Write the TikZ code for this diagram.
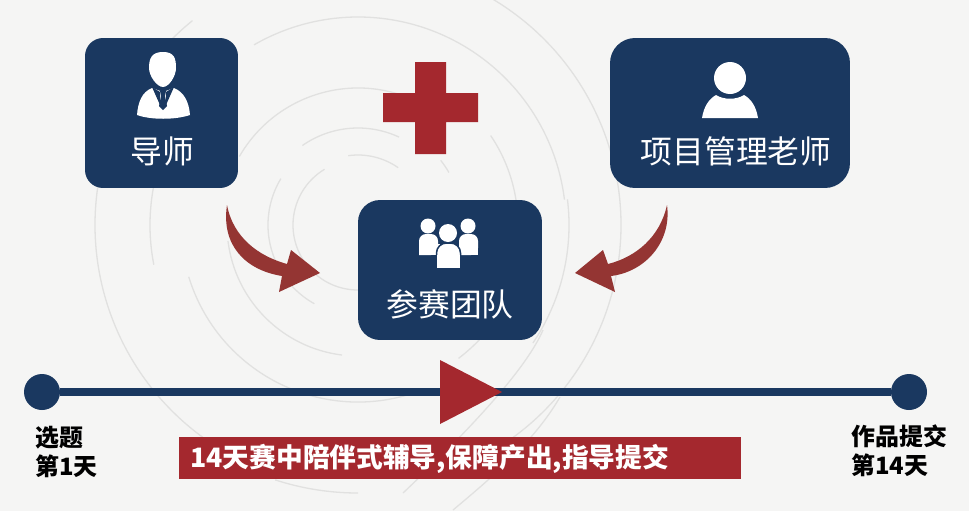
\documentclass[tikz,border=0pt]{standalone}
\usepackage{fontspec}
\usetikzlibrary{calc}
\setmainfont{Noto Sans CJK SC}
\definecolor{navy}{HTML}{1A3860}
\definecolor{crimson}{HTML}{A4282E}
\definecolor{arrowred}{HTML}{943533}
\definecolor{paper}{HTML}{F5F5F4}
\definecolor{ringgray}{HTML}{E1E1E0}
\tikzset{
  card/.style={fill=navy,inner sep=0pt},
  cardtext/.style={text=white,inner sep=0pt,font=\fontsize{18.1}{22}\selectfont},
  daytext/.style={text=black,inner sep=0pt,anchor=north west,align=left,font=\fontsize{13.6}{16.6}\selectfont\bfseries},
  dot/.style={circle,fill=navy,inner sep=0pt,minimum size=0.72cm},
  ring/.style={ringgray,line width=0.026cm}
}
\begin{document}
\begin{tikzpicture}[x=0.02cm,y=-0.02cm]
    % Set the page and the paper colour
    \useasboundingbox (0,0) rectangle (969,511);
    \fill[paper] (0,0) rectangle (969,511);

    % Draw the faint rings behind everything
    \coordinate (ringcentre) at (358,225);
    \foreach \r/\from/\to in {263/126/231,263/-59/55,268/108/90,208/169/222,208/240/353,
                              211/-7/34,177/163/74,137/210/300,131/173/97,97/235/295,
                              90/119/211,70/262/305,65/90/239,160/-34/20,105/-38/-30,167/43/53}
      \draw[ring] ($(ringcentre)+(\from:\r)$) arc[start angle=\from,end angle=\to,radius=\r];
    \draw[ring] (543,330) .. controls (528,365) and (480,420) .. (403,493);
    \draw[ring] (560,397) .. controls (535,440) and (495,475) .. (453,510);

    % Draw the three cards
    \node [card,rounded corners=0.36cm,minimum width=3.06cm,minimum height=3cm] (tutor) at (161.5,113) {};
    \node [card,rounded corners=0.5cm,minimum width=4.8cm,minimum height=3cm] (manager) at (730,113) {};
    \node [card,rounded corners=0.44cm,minimum width=3.68cm,minimum height=2.8cm] (team) at (450,270) {};

    % Card texts
    \node [cardtext] (tutorlabel) at (162,151.5) {导师};
    \node [cardtext] (managerlabel) at (736,151.5) {项目管理老师};
    \node [cardtext] (teamlabel) at (450,304) {参赛团队};

    % Suit icon
    \fill[white] (137,115) .. controls (138,102) and (142,92) .. (152,88) -- (163,92) -- (174,88)
      .. controls (184,92) and (189,102) .. (190,115) .. controls (175,120) and (151,120) .. (137,115) -- cycle;
    \fill[white] (163,52) .. controls (174,52) and (176,58) .. (176,68) .. controls (176,76) and (169,87) .. (163,87)
      .. controls (157,87) and (149,76) .. (149,68) .. controls (149,58) and (152,52) .. (163,52) -- cycle;
    \fill[navy] (152,87) -- (160,105) -- (160,92) -- cycle;
    \fill[navy] (174,87) -- (166,105) -- (166,92) -- cycle;
    \fill[navy] (160,91) -- (166,91) -- (165,96) -- (167,106) -- (163,110) -- (159,106) -- (161,96) -- cycle;

    % Person icon
    \fill[white] (702,118) .. controls (704,106) and (709,99) .. (716,95) .. controls (724,100) and (736,100) .. (744,95)
      .. controls (751,99) and (756,106) .. (758,118) -- cycle;
    \node [circle,fill=white,inner sep=0pt,minimum size=0.64cm] (managerhead) at (730,78) {};

    % Group icon
    \foreach \x in {419,459}
      \fill[white,rounded corners=0.14cm] (\x,255) -- (\x,234) -- (\x+19,234) -- (\x+19,255) [sharp corners] -- cycle;
    \fill[white] (419,244) rectangle (440,255);
    \fill[white] (459,244) rectangle (478,255);
    \node [circle,fill=white,inner sep=0pt,minimum size=0.3cm] (lefthead) at (428,226) {};
    \node [circle,fill=white,inner sep=0pt,minimum size=0.3cm] (righthead) at (468,226) {};
    \fill[white,draw=navy,line width=0.03cm,rounded corners=0.2cm] (436.5,268.5) -- (436.5,243) -- (460.5,243) -- (460.5,268.5) [sharp corners] -- cycle;
    \fill[white] (437,255) rectangle (460,268);
    \node [circle,fill=white,inner sep=0pt,minimum size=0.36cm] (midhead) at (448,233) {};

    % Plus sign
    \fill[crimson] (415,62) -- (446,62) -- (446,93) -- (478,93) -- (478,122) -- (446,122)
      -- (446,154) -- (415,154) -- (415,122) -- (383,122) -- (383,93) -- (415,93) -- cycle;

    % Curved arrows into the team card
    \coordinate (lefttail) at (227,205);
    \coordinate (lefttip) at (320,273);
    \coordinate (righttail) at (667,205);
    \coordinate (righttip) at (575,273);
    \fill[arrowred] (lefttail) .. controls (233,237) and (258,256) .. (287,264) -- (291,250) -- (lefttip)
      -- (279,292) -- (282,276) .. controls (245,270) and (221,245) .. (lefttail) -- cycle;
    \fill[arrowred] (righttail) .. controls (660,237) and (636,257) .. (608,264) -- (603,250) -- (righttip)
      -- (615,292) -- (611,276) .. controls (645,272) and (672,242) .. (righttail) -- cycle;

    % Draw the time line
    \node [dot] (startdot) at (42,392) {};
    \node [dot] (enddot) at (909,392) {};
    \draw[navy,line width=0.16cm] (startdot) -- (enddot);
    \fill[crimson] (440,360) -- (502,392) -- (440,424) -- cycle;

    % Time line texts
    \node [daytext] (startlabel) at (35,426) {选题\\第1天};
    \node [daytext] (endlabel) at (851,424) {作品提交\\第14天};
    \node [fill=crimson,text=white,inner sep=0pt,minimum width=11.24cm,minimum height=0.84cm] (banner) at (460,458) {};
    \node [text=white,inner sep=0pt,anchor=west,font=\fontsize{15.2}{18}\selectfont\bfseries] (bannerlabel) at (190,458.5) {14天赛中陪伴式辅导,保障产出,指导提交};
\end{tikzpicture}
\end{document}
